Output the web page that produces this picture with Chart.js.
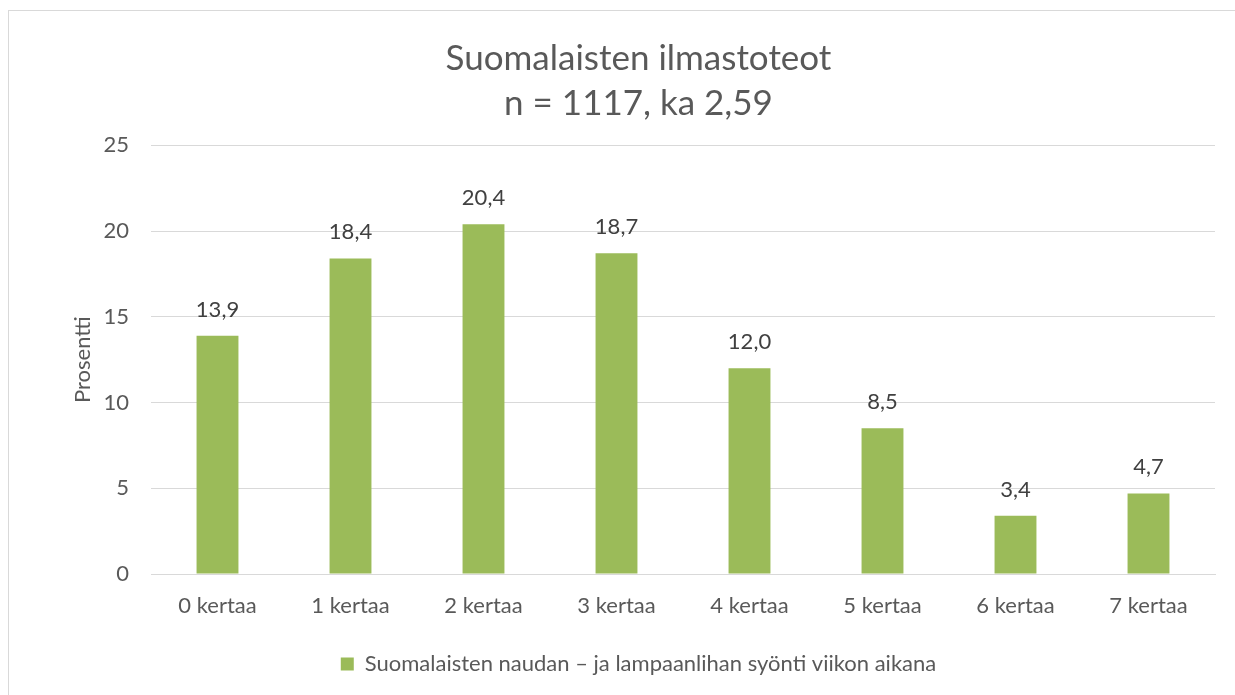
<!DOCTYPE html>
<html>
<head>
<meta charset="utf-8">
<script src="https://cdn.jsdelivr.net/npm/chart.js@4.4.1/dist/chart.umd.min.js"></script>
<style>
  html, body { margin: 0; padding: 0; background: #fff; }
  body { width: 1235px; height: 695px; position: relative; overflow: hidden; }
  #frame { position: absolute; left: 8px; top: 10px; width: 1240px; height: 720px; border: 1px solid #d9d9d9; box-sizing: border-box; }
  #wrap { position: absolute; left: 0; top: 0; width: 1235px; height: 695px; }
</style>
</head>
<body>
<div id="frame"></div>
<div id="wrap"><canvas id="chart"></canvas></div>
<script>
// Data
const categories = ['0 kertaa', '1 kertaa', '2 kertaa', '3 kertaa', '4 kertaa', '5 kertaa', '6 kertaa', '7 kertaa'];
const values = [13.9, 18.4, 20.4, 18.7, 12.0, 8.5, 3.4, 4.7];
const seriesName = 'Suomalaisten naudan \u2013 ja lampaanlihan syönti viikon aikana';
const titleLines = ['Suomalaisten ilmastoteot', 'n = 1117, ka 2,59'];
const yTitle = 'Prosentti';

const FONT = "Lato, 'Open Sans', sans-serif";
const TEXT = '#595959';

// Data labels above bars (Finnish decimal comma)
const barLabels = {
  id: 'barLabels',
  afterDatasetsDraw(chart) {
    const ctx = chart.ctx;
    const meta = chart.getDatasetMeta(0);
    ctx.save();
    ctx.font = '22px ' + FONT;
    ctx.fillStyle = '#404040';
    ctx.textAlign = 'center';
    ctx.textBaseline = 'alphabetic';
    meta.data.forEach((bar, i) => {
      const { x, y } = bar.getProps(['x', 'y'], true);
      ctx.fillText(values[i].toFixed(1).replace('.', ','), x, y - 19);
    });
    ctx.restore();
  }
};

new Chart(document.getElementById('chart'), {
  type: 'bar',
  data: {
    labels: categories,
    datasets: [{
      label: seriesName,
      data: values,
      backgroundColor: '#9bbb59',
      borderWidth: 0,
      barPercentage: 0.63,
      categoryPercentage: 0.5,
    }],
  },
  options: {
    responsive: true,
    maintainAspectRatio: false,
    animation: false,
    layout: { padding: { left: 62, right: 20, top: 36, bottom: 10 } },
    plugins: {
      title: {
        display: true,
        text: titleLines,
        color: TEXT,
        font: { family: FONT, size: 35, weight: 'normal', lineHeight: 1.29 },
        padding: { top: 0, bottom: 19 },
      },
      legend: {
        position: 'bottom',
        labels: {
          color: TEXT,
          font: { family: FONT, size: 22 },
          boxWidth: 13,
          boxHeight: 13,
          padding: 10,
        },
      },
      tooltip: { enabled: false },
    },
    scales: {
      x: {
        grid: { display: false },
        border: { color: '#d9d9d9', width: 1 },
        ticks: { color: TEXT, font: { family: FONT, size: 22 }, padding: 11, maxRotation: 0 },
        afterFit(scale) { scale.height = 69; },
      },
      y: {
        min: 0,
        max: 25,
        ticks: { stepSize: 5, color: TEXT, font: { family: FONT, size: 22 }, padding: 22 },
        grid: { color: '#d9d9d9', lineWidth: 1, drawTicks: false },
        border: { display: false },
        title: { display: true, text: yTitle, color: TEXT, font: { family: FONT, size: 22 }, padding: { top: 8, bottom: 0 } },
        afterFit(scale) { scale.width = 89; },
      },
    },
  },
  plugins: [barLabels],
});
</script>
</body>
</html>
